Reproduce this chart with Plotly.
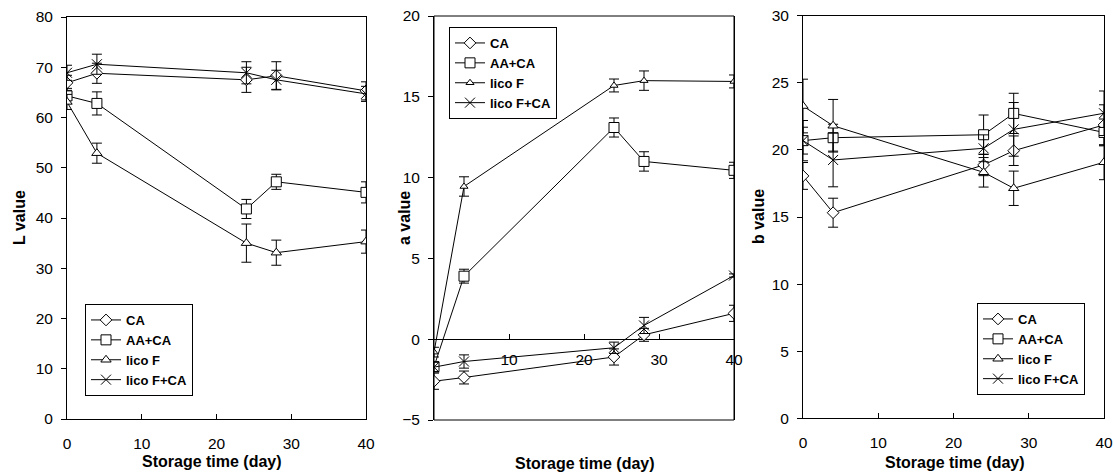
import plotly.graph_objects as go

days = [0, 4, 24, 28, 40]
series_names = ["CA", "AA+CA", "lico F", "lico F+CA"]

# L value
L_CA = [66.9, 68.8, 67.5, 68.3, 65.3]
L_CA_err = [1.5, 2.0, 2.5, 2.8, 1.8]
L_AACA = [64.3, 62.8, 41.8, 47.2, 45.1]
L_AACA_err = [1.5, 2.3, 1.9, 1.5, 2.1]
L_licoF = [63.1, 52.9, 35.0, 33.1, 35.3]
L_licoF_err = [1.5, 2.0, 3.8, 2.5, 2.3]
L_licoFCA = [68.9, 70.6, 68.9, 67.5, 64.7]
L_licoFCA_err = [1.5, 2.0, 2.2, 1.9, 1.5]

# a value
a_CA = [-2.6, -2.37, -1.1, 0.27, 1.6]
a_CA_err = [0.5, 0.4, 0.5, 0.4, 0.5]
a_AACA = [-1.7, 3.9, 13.1, 11.0, 10.45]
a_AACA_err = [0.3, 0.43, 0.59, 0.6, 0.5]
a_licoF = [-0.8, 9.45, 15.7, 16.0, 15.95]
a_licoF_err = [0.3, 0.6, 0.4, 0.6, 0.4]
a_licoFCA = [-1.73, -1.38, -0.53, 0.85, 3.94]
a_licoFCA_err = [0.3, 0.41, 0.35, 0.5, 0.1]

# b value
b_CA = [18.06, 15.32, 18.88, 19.94, 21.86]
b_CA_err = [1.0, 1.08, 0.8, 1.1, 1.5]
b_AACA = [20.69, 20.91, 21.13, 22.72, 21.3]
b_AACA_err = [1.0, 1.0, 1.47, 1.5, 1.0]
b_licoF = [23.27, 21.8, 18.33, 17.14, 19.08]
b_licoF_err = [2.0, 1.96, 1.1, 1.28, 1.3]
b_licoFCA = [20.69, 19.25, 20.12, 21.53, 22.73]
b_licoFCA_err = [1.5, 2.0, 1.0, 2.0, 1.66]

x_ticks = [0, 10, 20, 30, 40]
a_x_ticks = [10, 20, 30, 40]
L_y_ticks = [0, 10, 20, 30, 40, 50, 60, 70, 80]
a_y_ticks = [-5, 0, 5, 10, 15, 20]
b_y_ticks = [0, 5, 10, 15, 20, 25, 30]

W, H = 1114, 474
FONT = "Liberation Sans, Arial, sans-serif"

symbols = ["diamond", "square", "triangle-up", "x-thin"]
sizes_default = [9, 10, 9, 10]
sizes_a = [9, 10, 7, 10]

fig = go.Figure()

panels = [
    ("x", "y", "legend", [L_CA, L_AACA, L_licoF, L_licoFCA],
     [L_CA_err, L_AACA_err, L_licoF_err, L_licoFCA_err], sizes_default),
    ("x2", "y2", "legend2", [a_CA, a_AACA, a_licoF, a_licoFCA],
     [a_CA_err, a_AACA_err, a_licoF_err, a_licoFCA_err], sizes_a),
    ("x3", "y3", "legend3", [b_CA, b_AACA, b_licoF, b_licoFCA],
     [b_CA_err, b_AACA_err, b_licoF_err, b_licoFCA_err], sizes_default),
]

for xa, ya, lg, vals, errs, sizes in panels:
    for name, v, e, sym, sz in zip(series_names, vals, errs, symbols, sizes):
        fig.add_trace(go.Scatter(
            x=days, y=v, name=name, xaxis=xa, yaxis=ya, legend=lg,
            mode="lines+markers",
            line=dict(color="black", width=1),
            marker=dict(symbol=sym, size=sz, color="white",
                        line=dict(color="black", width=1)),
            error_y=dict(type="data", array=e, visible=True,
                         color="black", thickness=1, width=5),
        ))

def px_x(p):
    return p / W

def px_y(p):
    return 1 - p / H

tickfont = dict(family=FONT, size=15.5, color="black")

axis_common = dict(showgrid=False, automargin=False,
                   tickfont=tickfont, linecolor="black", linewidth=1,
                   tickcolor="black", tickwidth=1)

xaxis_common = dict(ticks="inside", ticklen=5, ticklabelstandoff=10,
                    range=[0, 40], **axis_common)
yaxis_common = dict(ticks="outside", ticklen=5, ticklabelstandoff=5,
                    showline=True, mirror=True, **axis_common)

layout = dict(
    width=W, height=H,
    margin=dict(l=0, r=0, t=0, b=0),
    paper_bgcolor="white", plot_bgcolor="white",
    font=dict(family=FONT, color="black"),
    # Panel 1
    xaxis=dict(domain=[px_x(67), px_x(366)], anchor="y",
               tickvals=x_ticks, showline=True, mirror=True,
               zeroline=False, **xaxis_common),
    yaxis=dict(domain=[px_y(419), px_y(17)], anchor="x", range=[0, 80],
               tickvals=L_y_ticks, zeroline=False, **yaxis_common),
    # Panel 2
    xaxis2=dict(domain=[px_x(434), px_x(734)], anchor="free",
                position=px_y(338.7),
                tickvals=a_x_ticks, showline=False, zeroline=False,
                **xaxis_common),
    yaxis2=dict(domain=[px_y(420), px_y(16)], anchor="x2", range=[-5, 20],
                tickvals=a_y_ticks,
                zeroline=True, zerolinecolor="black", zerolinewidth=1,
                **yaxis_common),
    # Panel 3
    xaxis3=dict(domain=[px_x(803), px_x(1104)], anchor="y3",
                tickvals=x_ticks, showline=True, mirror=True,
                zeroline=False, **xaxis_common),
    yaxis3=dict(domain=[px_y(418.3), px_y(15.7)], anchor="x3", range=[0, 30],
                tickvals=b_y_ticks, zeroline=False, **yaxis_common),
)

legend_common = dict(bgcolor="white", bordercolor="black", borderwidth=1,
                     font=dict(family=FONT, size=13, color="black",
                               weight="bold"),
                     xanchor="left", yanchor="top", tracegroupgap=0,
                     itemwidth=30)
layout["legend"] = dict(x=px_x(85), y=px_y(304), **legend_common)
layout["legend2"] = dict(x=px_x(449), y=px_y(27), **legend_common)
layout["legend3"] = dict(x=px_x(977), y=px_y(303), **legend_common)

fig.update_layout(**layout)

# Frame for panel 2
fig.add_shape(type="rect", xref="x2 domain", yref="y2 domain",
              x0=0, x1=1, y0=0, y1=1, line=dict(color="black", width=1),
              layer="above")

title_font = dict(family=FONT, size=16, color="black", weight="bold")
annotations = [
    dict(text="L value", x=px_x(20), y=px_y(218), textangle=-90),
    dict(text="a value", x=px_x(405), y=px_y(218), textangle=-90),
    dict(text="b value", x=px_x(758), y=px_y(217), textangle=-90),
    dict(text="Storage time (day)", x=px_x(212), y=px_y(461.5)),
    dict(text="Storage time (day)", x=px_x(585), y=px_y(463.3)),
    dict(text="Storage time (day)", x=px_x(955), y=px_y(462)),
]
for a in annotations:
    fig.add_annotation(xref="paper", yref="paper", showarrow=False,
                       xanchor="center", yanchor="middle",
                       font=title_font, **a)

fig.write_html("out.html")
